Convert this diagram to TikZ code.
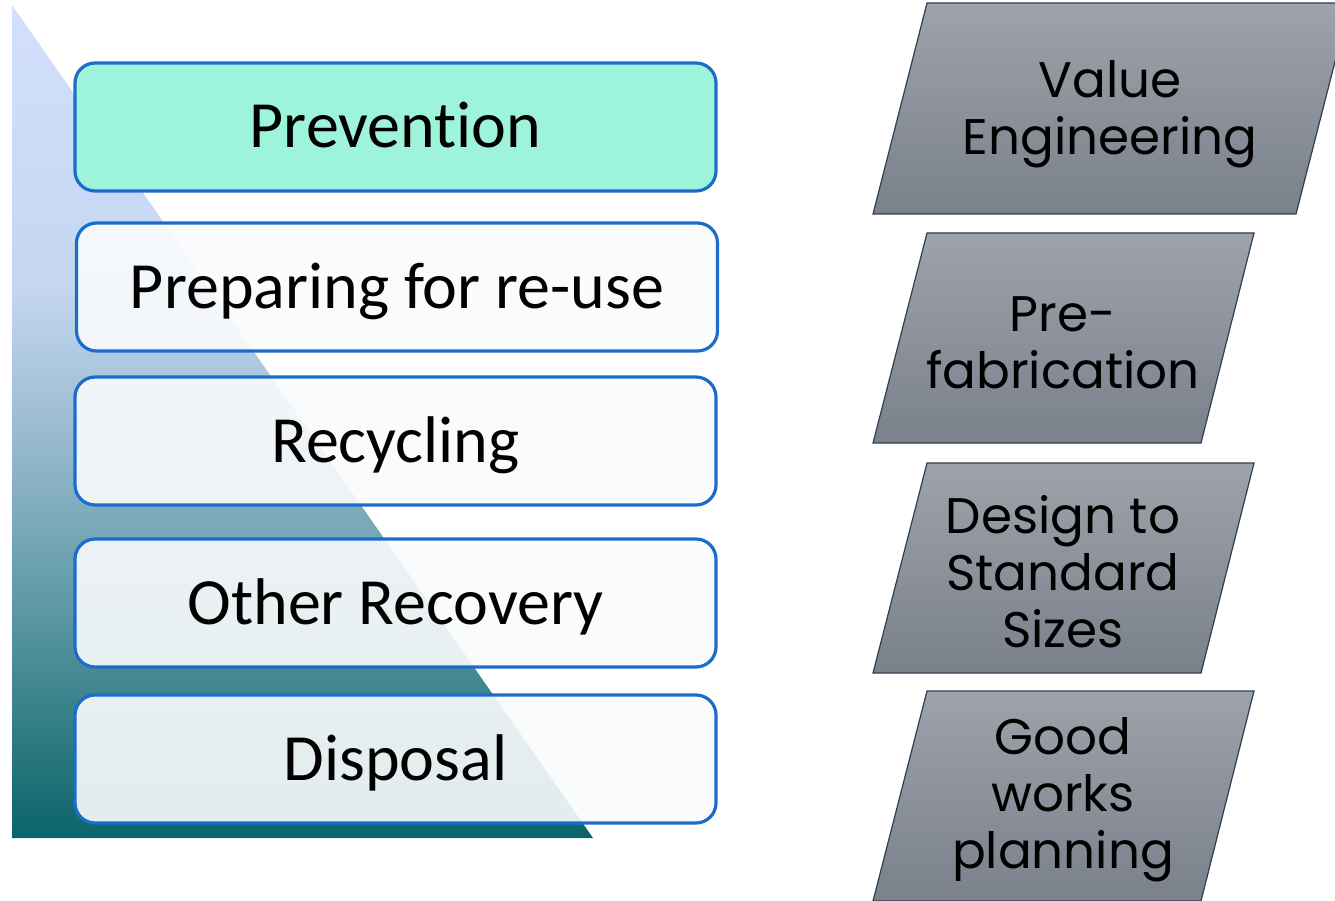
\documentclass[tikz,border=0pt]{standalone}
\usepackage{fontspec}
\setmainfont{Carlito}[Ligatures=CommonOff]
\newfontfamily\tagfont{Poppins}

\definecolor{boxblue}{HTML}{1C6CCB}
\definecolor{boxfill}{HTML}{FAFBFC}
\definecolor{mint}{HTML}{9DF4DB}
\definecolor{pyrtop}{HTML}{D3E0FC}
\definecolor{pyrhigh}{HTML}{C4D6F1}
\definecolor{pyrmid}{HTML}{9DBDD3}
\definecolor{pyrlow}{HTML}{5E99A5}
\definecolor{pyrbot}{HTML}{0B6469}
\definecolor{slatetop}{HTML}{9EA2AA}
\definecolor{slatebot}{HTML}{7A818B}
\definecolor{slateline}{HTML}{2E3F52}

\pgfdeclareverticalshading{hierarchy}{100bp}{color(0bp)=(pyrbot); color(25bp)=(pyrbot); color(39bp)=(pyrlow); color(50bp)=(pyrmid); color(58bp)=(pyrhigh); color(75bp)=(pyrtop); color(100bp)=(pyrtop)}

\begin{document}
\begin{tikzpicture}[x=1pt, y=-1pt]
\useasboundingbox (0,0) rectangle (1335,901);

% background wedge
\shade[shading=hierarchy] (12,5) -- (593,838) -- (12,838) -- cycle;

\begin{scope}[every node/.style={draw=boxblue, line width=3.2pt, rounded corners=20pt,
              minimum width=641pt, minimum height=128pt, fill=boxfill,
              fill opacity=0.9, text opacity=1, text height=42pt, text depth=0pt,
              font=\fontsize{66}{80}\selectfont}]
    \node (prevention) at (395.5, 127) [fill=mint, fill opacity=1] {Prevention};
    \node (reuse) at (397, 287) {Preparing for re-use};
    \node (recycling) at (395.5, 441) {Recycling};
    \node (recovery) at (395.5, 603) {Other Recovery};
    \node (disposal) at (395.5, 759) {Disposal};
\end{scope}

\begin{scope}[every path/.style={draw=slateline, line width=1.2pt, top color=slatetop, bottom color=slatebot},
              every node/.style={align=center, text=black, font=\tagfont\fontsize{50}{57}\selectfont}]
    \shade (927,3) -- (1350,3) -- (1296,214) -- (873,214) -- cycle;
    \shade (927,233) -- (1254,233) -- (1201,443) -- (873,443) -- cycle;
    \shade (927,463) -- (1254,463) -- (1201,673) -- (873,673) -- cycle;
    \shade (927,691) -- (1254,691) -- (1201,901) -- (873,901) -- cycle;

    \node (value) at (1110, 114) {Value\\Engineering};
    \node (prefab) at (1063, 343) {Pre-\\fabrication};
    \node (standard) at (1063, 572) {Design to\\Standard\\Sizes};
    \node (planning) at (1063, 800) {Good\\works\\planning};
\end{scope}
\end{tikzpicture}
\end{document}
